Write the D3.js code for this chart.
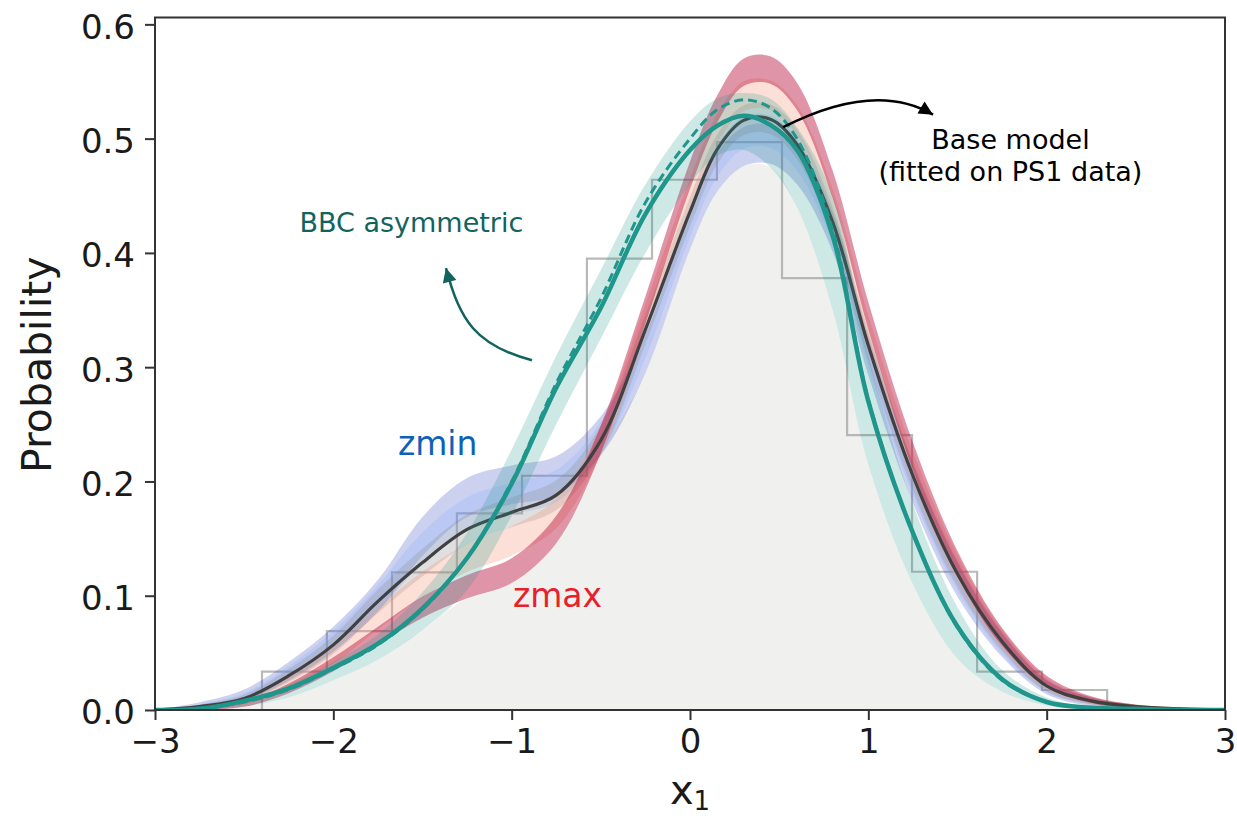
<!DOCTYPE html>
<html><head><meta charset="utf-8">
<script src="https://cdn.jsdelivr.net/npm/d3@7"></script>
<style>body{margin:0;background:#fff} svg{display:block} text{font-family:"DejaVu Sans",sans-serif}</style>
</head><body><svg id="c" width="1237" height="819"></svg>
<script>
// ---- data ----
const xGrid      = [-3,-2.75,-2.5,-2.25,-2,-1.75,-1.5,-1.25,-1,-0.75,-0.5,-0.25,0,0.15,0.3,0.45,0.6,0.8,1,1.25,1.5,1.75,2,2.25,2.5,2.75,3];
const baseModel  = [0.000,0.003,0.010,0.030,0.057,0.095,0.129,0.158,0.173,0.188,0.236,0.333,0.436,0.490,0.516,0.517,0.495,0.427,0.319,0.205,0.119,0.060,0.021,0.008,0.003,0.001,0.000];
const zMin       = [0.000,0.004,0.013,0.034,0.062,0.100,0.152,0.186,0.197,0.205,0.240,0.312,0.420,0.470,0.493,0.495,0.477,0.418,0.310,0.198,0.114,0.057,0.020,0.007,0.002,0.001,0.000];
const zLow       = [0.000,0.003,0.011,0.032,0.060,0.098,0.142,0.172,0.185,0.196,0.238,0.322,0.428,0.480,0.505,0.506,0.486,0.422,0.315,0.202,0.117,0.058,0.021,0.008,0.002,0.001,0.000];
const zHigh      = [0.000,0.002,0.008,0.025,0.048,0.080,0.110,0.133,0.148,0.172,0.236,0.342,0.452,0.508,0.537,0.538,0.516,0.443,0.332,0.213,0.124,0.062,0.023,0.008,0.003,0.001,0.000];
const zMax       = [0.000,0.001,0.005,0.019,0.040,0.065,0.090,0.108,0.122,0.158,0.237,0.350,0.468,0.525,0.558,0.560,0.537,0.460,0.345,0.222,0.128,0.064,0.025,0.009,0.003,0.001,0.000];
const bbcSolid   = [0.000,0.001,0.008,0.019,0.037,0.058,0.089,0.133,0.198,0.282,0.352,0.434,0.490,0.511,0.520,0.512,0.490,0.415,0.270,0.155,0.073,0.027,0.007,0.002,0.001,0.000,0.000];
const bbcDashed  = [0.000,0.001,0.007,0.018,0.036,0.057,0.088,0.133,0.200,0.286,0.360,0.444,0.500,0.525,0.534,0.527,0.500,0.420,0.272,0.155,0.072,0.026,0.007,0.002,0.001,0.000,0.000];
const bbcHi      = [0.001,0.003,0.009,0.022,0.042,0.066,0.103,0.155,0.228,0.310,0.385,0.460,0.515,0.535,0.540,0.535,0.510,0.450,0.310,0.180,0.090,0.035,0.011,0.003,0.001,0.000,0.000];
const bbcLo      = [0.000,0.000,0.003,0.011,0.026,0.044,0.070,0.105,0.170,0.250,0.325,0.400,0.460,0.485,0.490,0.475,0.440,0.350,0.215,0.110,0.045,0.016,0.004,0.001,0.000,0.000,0.000];
const histEdges  = [-2.400,-2.036,-1.671,-1.307,-0.942,-0.578,-0.213,0.151,0.516,0.881,1.245,1.610,1.974,2.339];
const histHeights= [0.0335,0.069,0.1205,0.172,0.205,0.395,0.464,0.497,0.378,0.2406,0.121,0.0335,0.0175];
const xTicks = [-3,-2,-1,0,1,2,3];
const yTicks = [0,0.1,0.2,0.3,0.4,0.5,0.6];

// ---- layout ----
const W=1237,H=819, m={l:155,r:12,t:17.5,b:109};
const svg = d3.select('#c');
const x = d3.scaleLinear().domain([-3,3]).range([m.l, W-m.r]);
const y = d3.scaleLinear().domain([0,0.606]).range([H-m.b, m.t]);

const defs = svg.append('defs');
defs.append('clipPath').attr('id','clip')
  .append('rect').attr('x',m.l).attr('y',m.t).attr('width',W-m.l-m.r).attr('height',H-m.t-m.b);
const g = svg.append('g').attr('clip-path','url(#clip)');

const curve = d3.curveCatmullRom.alpha(0.5);
const idx = xGrid.map((_,i)=>i);
const yc = v => y(Math.max(0,v));
const bandArea = (lo,hi) => d3.area().curve(curve).x(i=>x(xGrid[i])).y0(i=>yc(lo(i))).y1(i=>yc(hi(i)));
const lineOf = arr => d3.line().curve(curve).x(i=>x(xGrid[i])).y(i=>yc(arr[i]));
const taper = v => Math.min(1, Math.sqrt(Math.max(v,0)/0.15));

const bands = [
  {v:zMin, hw:0.017, c:'#3b4cc0', o:0.26},
  {v:zLow, hw:0.014, c:'#8db0fe', o:0.28},
  {v:baseModel, hw:0.013, c:'#8c8c8c', o:0.28},
  {v:zHigh, hw:0.013, c:'#f4987a', o:0.30},
  {v:zMax, hw:0.012, c:'#b5002d', o:0.42}
];

// gray fill under lowest envelope
const envelope = idx.map(i => Math.max(0, d3.min([bbcLo[i], ...bands.map(b=>b.v[i]-b.hw*taper(b.v[i]))])));
g.append('path').attr('d', bandArea(()=>0, i=>envelope[i])(idx)).attr('fill','#f0f0ef');

// histogram step outline
const histPts = [[histEdges[0],0], ...histHeights.map((h,i)=>[histEdges[i],h]), [histEdges[histEdges.length-1],0]];
g.append('path')
  .attr('d', d3.line().curve(d3.curveStepAfter).x(d=>x(d[0])).y(d=>y(d[1]))(histPts))
  .attr('fill','none').attr('stroke','#a8a8a8').attr('stroke-width',2.2).attr('stroke-opacity',0.8);

// z bands
bands.forEach(b=>{
  g.append('path').attr('d', bandArea(i=>b.v[i]-b.hw*taper(b.v[i]), i=>b.v[i]+b.hw*taper(b.v[i]))(idx))
    .attr('fill', b.c).attr('fill-opacity', b.o);
});

// base model line
g.append('path').attr('d', lineOf(baseModel)(idx)).attr('fill','none').attr('stroke','#404040').attr('stroke-width',3.2);

// BBC band + lines
const teal = '#1f968b';
g.append('path').attr('d', bandArea(i=>bbcLo[i], i=>bbcHi[i])(idx)).attr('fill', teal).attr('fill-opacity',0.22);
g.append('path').attr('d', lineOf(bbcDashed)(idx)).attr('fill','none').attr('stroke',teal).attr('stroke-width',3).attr('stroke-dasharray','9,5');
g.append('path').attr('d', lineOf(bbcSolid)(idx)).attr('fill','none').attr('stroke',teal).attr('stroke-width',4.5);

// ---- axes ----
const xAxis = svg.append('g').attr('transform',`translate(0,${H-m.b})`)
  .call(d3.axisBottom(x).tickValues(xTicks).tickSize(10).tickPadding(9).tickFormat(d=>d<0?'\u2212'+Math.abs(d):d));
const yAxis = svg.append('g').attr('transform',`translate(${m.l},0)`)
  .call(d3.axisLeft(y).tickValues(yTicks).tickSize(10).tickPadding(10).tickFormat(d3.format('.1f')));
[xAxis,yAxis].forEach(a=>{
  a.select('.domain').remove();
  a.selectAll('.tick line').attr('stroke','#333').attr('stroke-width',2);
  a.selectAll('.tick text').attr('fill','#1a1a1a').style('font-size','34px').style('font-family','"DejaVu Sans",sans-serif');
});
yAxis.selectAll('.tick text').attr('dy','0.41em');
svg.append('rect').attr('x',m.l).attr('y',m.t).attr('width',W-m.l-m.r).attr('height',H-m.t-m.b)
  .attr('fill','none').attr('stroke','#333').attr('stroke-width',2);

svg.append('text').attr('transform',`translate(51,${(y(0)+y(0.606))/2+1}) rotate(-90)`).attr('text-anchor','middle')
  .style('font-size','41px').attr('fill','#1a1a1a').text('Probability');
const xl = svg.append('text').attr('x',x(0)).attr('y',804).attr('text-anchor','middle').style('font-size','40px').attr('fill','#1a1a1a');
xl.append('tspan').text('x');
xl.append('tspan').attr('dy',6).style('font-size','26px').text('1');

// ---- annotations ----
function marker(id,color){
  defs.append('marker').attr('id',id).attr('viewBox','0 0 10 10').attr('refX',10).attr('refY',5)
    .attr('markerWidth',15).attr('markerHeight',14).attr('markerUnits','userSpaceOnUse').attr('orient','auto')
    .append('path').attr('d','M0,0 L10,5 L0,10 z').attr('fill',color);
}
marker('arrB','#000'); marker('arrT','#11635e');

const pB = d3.path();
pB.moveTo(x(0.522),y(0.510)); pB.quadraticCurveTo(x(1.038),y(0.551),x(1.363),y(0.521));
svg.append('path').attr('d',pB.toString()).attr('fill','none').attr('stroke','#000').attr('stroke-width',2.5).attr('marker-end','url(#arrB)');
svg.append('text').attr('x',x(1.797)).attr('y',y(0.4906)).attr('text-anchor','middle').style('font-size','27px').attr('fill','#000').text('Base model');
svg.append('text').attr('x',x(1.797)).attr('y',y(0.463)).attr('text-anchor','middle').style('font-size','27px').attr('fill','#000').text('(fitted on PS1 data)');

const pT = d3.path();
pT.moveTo(x(-0.886),y(0.306)); pT.bezierCurveTo(x(-1.206),y(0.3193),x(-1.290),y(0.3412),x(-1.3685),y(0.3867));
svg.append('path').attr('d',pT.toString()).attr('fill','none').attr('stroke','#11635e').attr('stroke-width',2.5).attr('marker-end','url(#arrT)');
svg.append('text').attr('x',x(-2.19)).attr('y',y(0.418)).style('font-size','27px').attr('fill','#11635e').text('BBC asymmetric');

svg.append('text').attr('x',x(-1.638)).attr('y',y(0.223)).style('font-size','33px').attr('fill','#0d62b8').text('zmin');
svg.append('text').attr('x',x(-0.993)).attr('y',y(0.0897)).style('font-size','33px').attr('fill','#e8202a').text('zmax');
</script></body></html>
